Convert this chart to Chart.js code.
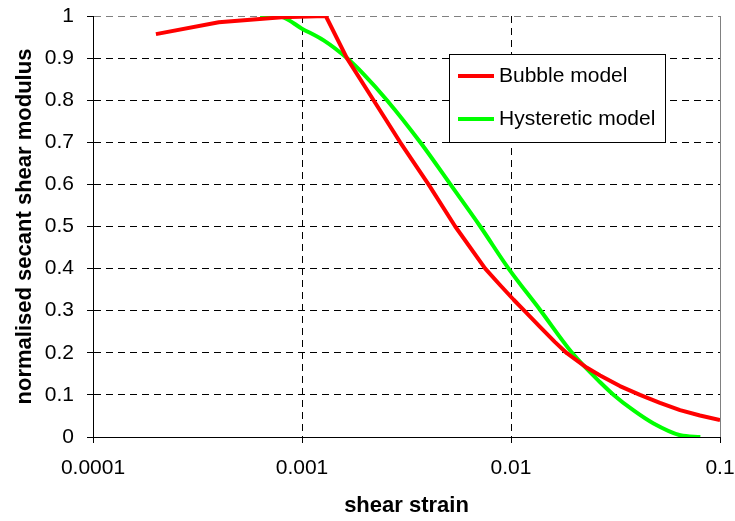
<!DOCTYPE html>
<html>
<head>
<meta charset="utf-8">
<script src="https://cdn.jsdelivr.net/npm/chart.js@4.4.1/dist/chart.umd.min.js"></script>
<style>
  html, body { margin: 0; padding: 0; background: #fff; }
  #wrap { width: 735px; height: 521px; }
</style>
</head>
<body>
<div id="wrap"><canvas id="chart"></canvas></div>
<script>
// values
const bubbleStrain  = [0.0002, 0.0004, 0.0008, 0.0013, 0.00164, 0.0022, 0.00295, 0.00403, 0.00541, 0.00753, 0.00886, 0.0103, 0.0117, 0.0138, 0.0162, 0.0185, 0.023, 0.0267, 0.0332, 0.0414, 0.0516, 0.0644, 0.0802, 0.1];
const bubbleModulus = [0.957, 0.985, 0.997, 1.0, 0.9, 0.8, 0.7, 0.6, 0.5, 0.4, 0.361, 0.326, 0.298, 0.261, 0.226, 0.199, 0.165, 0.146, 0.121, 0.1, 0.081, 0.064, 0.051, 0.04];

const hystStrain  = [0.00063, 0.00079, 0.001, 0.00127, 0.00164, 0.00197, 0.00255, 0.00368, 0.00513, 0.00713, 0.00974, 0.01387, 0.0196, 0.0267, 0.031, 0.0386, 0.0481, 0.0646, 0.0805];
const hystModulus = [1.0, 0.998, 0.97, 0.942, 0.9, 0.862, 0.8, 0.7, 0.6, 0.5, 0.4, 0.3, 0.2, 0.13, 0.1, 0.063, 0.032, 0.004, 0.0];

const seriesNames = ["Bubble model", "Hysteretic model"];
const xTicks = [0.0001, 0.001, 0.01, 0.1];
const yTicks = [0, 0.1, 0.2, 0.3, 0.4, 0.5, 0.6, 0.7, 0.8, 0.9, 1];

const toPoints = (xs, ys) => xs.map((x, i) => ({ x: x, y: ys[i] }));

const FONT = "Arial, 'Liberation Sans', sans-serif";

// legend box drawn inside the plot, like the original
const boxLegend = {
    id: "boxLegend",
    afterDatasetsDraw(chart) {
        const ctx = chart.ctx;
        const x = 449, y = 54, w = 216, h = 88;
        ctx.save();
        ctx.fillStyle = "#fff";
        ctx.fillRect(x, y, w, h);
        ctx.strokeStyle = "#000";
        ctx.lineWidth = 1;
        ctx.strokeRect(x + 0.5, y + 0.5, w, h);
        ctx.font = "21px " + FONT;
        ctx.textBaseline = "middle";
        chart.data.datasets.forEach((ds, i) => {
            const ly = y + 22 + i * 43;
            ctx.strokeStyle = ds.borderColor;
            ctx.lineWidth = 4;
            ctx.beginPath();
            ctx.moveTo(x + 9, ly);
            ctx.lineTo(x + 45, ly);
            ctx.stroke();
            ctx.fillStyle = "#000";
            ctx.fillText(ds.label, x + 50, ly);
        });
        ctx.restore();
    }
};

new Chart(document.getElementById("chart"), {
    type: "line",
    data: {
        datasets: [
            {
                label: seriesNames[0],
                data: toPoints(bubbleStrain, bubbleModulus),
                borderColor: "#ff0000",
                borderWidth: 4,
                pointRadius: 0,
                tension: 0,
                borderJoinStyle: "round",
                fill: false
            },
            {
                label: seriesNames[1],
                data: toPoints(hystStrain, hystModulus),
                borderColor: "#00ff00",
                borderWidth: 4,
                pointRadius: 0,
                cubicInterpolationMode: "monotone",
                borderJoinStyle: "round",
                fill: false
            }
        ]
    },
    options: {
        responsive: true,
        maintainAspectRatio: false,
        animation: false,
        layout: { padding: { top: 16, right: 15, left: 0, bottom: 0 } },
        plugins: {
            legend: { display: false },
            tooltip: { enabled: false }
        },
        scales: {
            x: {
                type: "logarithmic",
                min: 0.0001,
                max: 0.1,
                afterBuildTicks: (scale) => { scale.ticks = xTicks.map(v => ({ value: v })); },
                afterFit: (scale) => {
                    scale.height = 84;
                    scale.paddingLeft = 0;
                    scale.paddingRight = 0;
                },
                ticks: {
                    color: "#000",
                    font: { family: FONT, size: 21 },
                    padding: 13,
                    maxRotation: 0,
                    autoSkip: false,
                    callback: (v) => String(v)
                },
                grid: {
                    color: (c) => c.index === 3 ? "#808080" : "#000",
                    lineWidth: 1,
                    tickLength: 6,
                    tickColor: "#000",
                    tickBorderDash: []
                },
                border: {
                    display: true,
                    color: "#000",
                    width: 1,
                    dash: (c) => c.index === 3 ? [] : [7, 5]
                },
                title: {
                    display: true,
                    text: "shear strain",
                    color: "#000",
                    font: { family: FONT, size: 22, weight: "bold" },
                    padding: { top: 0, bottom: 1.5 }
                }
            },
            y: {
                type: "linear",
                min: 0,
                max: 1,
                afterBuildTicks: (scale) => { scale.ticks = yTicks.map(v => ({ value: v })); },
                afterFit: (scale) => {
                    scale.width = 93;
                    scale.paddingTop = 0;
                    scale.paddingBottom = 0;
                },
                ticks: {
                    color: "#000",
                    font: { family: FONT, size: 21 },
                    padding: 13,
                    callback: (v) => String(Number(v.toFixed(1)))
                },
                grid: {
                    color: (c) => c.index === 10 ? "#808080" : "#000",
                    lineWidth: 1,
                    tickLength: 6,
                    tickColor: "#000",
                    tickBorderDash: []
                },
                border: {
                    display: true,
                    color: "#000",
                    width: 1,
                    dash: [7, 5]
                },
                title: {
                    display: true,
                    text: "normalised secant shear modulus",
                    color: "#000",
                    font: { family: FONT, size: 22, weight: "bold" },
                    padding: { top: 12, bottom: 0 }
                }
            }
        }
    },
    plugins: [boxLegend]
});
</script>
</body>
</html>
